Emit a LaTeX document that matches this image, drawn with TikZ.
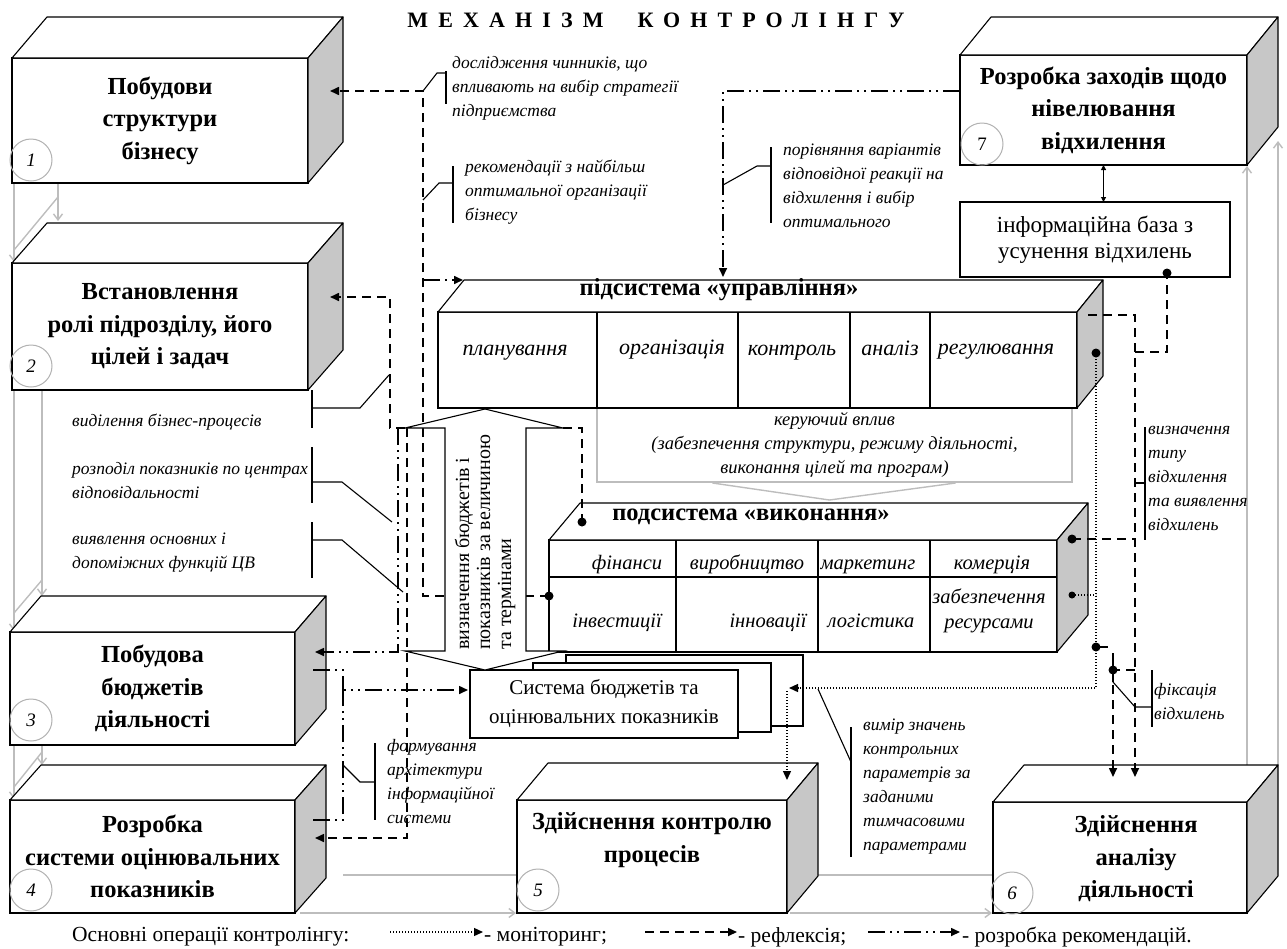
\documentclass[tikz,border=0pt]{standalone}
\usepackage{fontspec}
\setmainfont{Liberation Serif}
\usetikzlibrary{arrows.meta,calc}

\definecolor{sidegray}{gray}{0.78}
\definecolor{flowgray}{gray}{0.74}
\definecolor{ringgray}{gray}{0.70}

\newcommand\boxfont{\fontsize{24.5}{32.5}\selectfont\bfseries}
\newcommand\headfont{\fontsize{24.5}{26}\selectfont\bfseries}
\newcommand\cellfont{\fontsize{22}{24}\selectfont\itshape}
\newcommand\lowcellfont{\fontsize{20.5}{25}\selectfont\itshape}
\newcommand\notefont{\fontsize{17.5}{24}\selectfont\itshape}
\newcommand\plainfont{\fontsize{21}{29}\selectfont}
\newcommand\legendfont{\fontsize{21.5}{22}\selectfont}

% top and right faces of a block whose front face is node #1
\newcommand\blockfaces[3]{%
  \draw[line width=1.1pt,fill=white,line join=round]
    (#1.north west) -- ++(#2,-#3) -- ($(#1.north east)+(#2,-#3)$) -- (#1.north east) -- cycle;
  \draw[line width=1.1pt,fill=sidegray,line join=round]
    (#1.north east) -- ++(#2,-#3) -- ($(#1.south east)+(#2,-#3)$) -- (#1.south east) -- cycle;}

\begin{document}
\begin{tikzpicture}[x=1pt,y=-1pt,
  front/.style={draw,line width=1.1pt,fill=white,inner sep=0pt,outer sep=0pt,align=center,font=\boxfont},
  plainbox/.style={draw,line width=1.1pt,fill=white,inner sep=0pt,outer sep=0pt,align=center,font=\plainfont},
  celltext/.style={font=\cellfont,inner sep=0pt,align=center,anchor=base},
  lowcell/.style={font=\lowcellfont,inner sep=0pt,align=center,anchor=base},
  notetext/.style={font=\notefont,inner sep=0pt,align=left,anchor=west},
  numring/.style={draw=ringgray,line width=1pt,circle,minimum size=42pt,inner sep=0pt,font=\fontsize{19}{19}\selectfont\itshape},
  blackdot/.style={circle,fill=black,minimum size=9pt,inner sep=0pt},
  refline/.style={line width=1.6pt,dash pattern=on 9pt off 6pt},
  recline/.style={line width=1.6pt,dash pattern=on 17pt off 5pt on 2pt off 5pt on 2pt off 5pt},
  monline/.style={line width=1.3pt,dash pattern=on 1.3pt off 1.7pt},
  endtri/.style={-{Triangle[length=9pt,width=8pt]}},
  leader/.style={line width=1.1pt},
  grayflow/.style={draw=flowgray,line width=1.4pt,-{Straight Barb[length=6pt,width=9pt]}},
  grayline/.style={draw=flowgray,line width=1.4pt},
]
\useasboundingbox (0,0) rectangle (1287,948);

% ---------- grey flow between the stages ----------
\draw[grayflow] (14,183) -- (14,262);
\draw[grayflow] (58,183) -- (58,221);
\draw[grayline] (14,250) -- (58,197);
\draw[grayflow] (14,390) -- (14,631);
\draw[grayflow] (42,390) -- (42,596);
\draw[grayline] (14,613) -- (42,580);
\draw[grayflow] (14,745) -- (14,799);
\draw[grayflow] (42,745) -- (42,765);
\draw[grayline] (14,787) -- (42,752);
\draw[grayline] (343,875) -- (517,875);
\draw[grayflow] (300,913) -- (516,913);
\draw[grayline] (818,875) -- (993,875);
\draw[grayflow] (790,913) -- (992,913);
\draw[grayflow] (1247,802) -- (1247,166);
\draw[grayflow] (1278,765) -- (1278,141);

% ---------- stage blocks ----------
\node[front,minimum width=296pt,minimum height=125pt] (b1) at (160,120.5) {Побудови\\структури\\бізнесу};
\blockfaces{b1}{35}{41}
\node[front,minimum width=296pt,minimum height=127pt] (b2) at (160,326.5) {Встановлення\\ролі підрозділу, його\\цілей і задач};
\blockfaces{b2}{35}{40}
\node[front,minimum width=285pt,minimum height=113pt] (b3) at (152.5,688.5) {Побудова\\бюджетів\\діяльності};
\blockfaces{b3}{31}{36}
\node[front,minimum width=285pt,minimum height=113pt] (b4) at (152.5,856.5) {Розробка\\системи оцінювальних\\показників};
\blockfaces{b4}{31}{35}
\node[front,minimum width=270pt,minimum height=113pt] (b5) at (652,856.5) {};
\blockfaces{b5}{31}{37}
\node[font=\boxfont,align=center,inner sep=0pt] (b5t) at (652,840) {Здійснення контролю\\процесів};
\node[front,minimum width=254pt,minimum height=111pt] (b6) at (1120,857.5) {};
\blockfaces{b6}{31}{37}
\node[font=\boxfont,align=center,inner sep=0pt] (b6t) at (1136,859) {Здійснення\\аналізу\\діяльності};
\node[front,minimum width=287pt,minimum height=110pt] (b7) at (1103.5,110) {Розробка заходів щодо\\нівелювання\\відхилення};
\blockfaces{b7}{31}{38}
\node[plainbox,minimum width=270pt,minimum height=75pt,font=\fontsize{23}{26}\selectfont] (info) at (1095,239.5) {інформаційна база з\\усунення відхилень};
\draw[line width=1.1pt,{Triangle[length=5pt,width=5pt]}-{Triangle[length=5pt,width=5pt]}] (b7.south) -- (b7.south |- info.north);

% ---------- control influence panel ----------
\node[draw=flowgray,line width=1.2pt,minimum width=475pt,minimum height=74pt,inner sep=0pt,outer sep=0pt,align=center,font=\fontsize{18.5}{24}\selectfont\itshape] (ctrl) at (834.5,445)
  {керуючий вплив\\(забезпечення структури, режиму діяльності,\\виконання цілей та програм)};
\draw[grayline] ($(ctrl.south)+(-122,1)$) -- ($(ctrl.south)+(-5,18)$) -- ($(ctrl.south)+(121,1)$);

% ---------- management subsystem ----------
\node[draw,line width=1.1pt,fill=white,minimum width=639pt,minimum height=96pt,inner sep=0pt,outer sep=0pt] (mgmt) at (757.5,360) {};
\blockfaces{mgmt}{26}{32}
\foreach \x in {597,738,850,930} \draw[line width=1.1pt] (\x,312) -- (\x,408);
\node[font=\headfont,inner sep=0pt,anchor=base] (mgmtT) at (719,295) {підсистема «управління»};
\node[celltext] (c11) at (515,355) {планування};
\node[celltext] (c12) at (672,354) {організація};
\node[celltext] (c13) at (792,355) {контроль};
\node[celltext] (c14) at (890,355) {аналіз};
\node[celltext] (c15) at (996,354) {регулювання};

% ---------- execution subsystem ----------
\node[draw,line width=1.1pt,fill=white,minimum width=508pt,minimum height=112pt,inner sep=0pt,outer sep=0pt] (exec) at (803,596) {};
\blockfaces{exec}{31}{37}
\draw[line width=1.1pt] (549,577) -- (1057,577);
\foreach \x in {676,818,930} \draw[line width=1.1pt] (\x,540) -- (\x,652);
\node[font=\headfont,inner sep=0pt,anchor=base] (execT) at (751,520) {подсистема «виконання»};
\node[lowcell] (c21) at (627,569) {фінанси};
\node[lowcell] (c22) at (747,569) {виробництво};
\node[lowcell] (c23) at (868,569) {маркетинг};
\node[lowcell] (c24) at (992,569) {комерція};
\node[lowcell] (c31) at (617,627) {інвестиції};
\node[lowcell] (c32) at (768,627) {інновації};
\node[lowcell] (c33) at (871,627) {логістика};
\node[font=\lowcellfont,inner sep=0pt,align=center] (c34) at (989,611) {забезпечення\\ресурсами};

% ---------- budgets system ----------
\node[plainbox,minimum width=237pt,minimum height=71pt] (sb3) at (684.5,690.5) {};
\node[plainbox,minimum width=238pt,minimum height=69pt] (sb2) at (652,697.5) {};
\node[plainbox,minimum width=268pt,minimum height=68pt] (sb1) at (604,704) {Система бюджетів та\\оцінювальних показників};

% ---------- junction dots ----------
\node[blackdot] (dA) at (549,596) {};
\node[blackdot] (dB) at (582,522) {};
\node[blackdot] (dC) at (1096,353) {};
\node[blackdot] (dD) at (1072,539) {};
\node[blackdot,minimum size=7pt] (dE) at (1072,595) {};
\node[blackdot] (dF) at (1096,647) {};
\node[blackdot] (dG) at (1113,670) {};
\node[blackdot] (dH) at (1167,273) {};

% ---------- connector end points ----------
\coordinate (b1in) at (330,91);
\coordinate (b2in) at (330,297);
\coordinate (b3in) at (315,652);
\coordinate (b4in) at (315,838);
\coordinate (b3out) at (313,670);
\coordinate (b4out) at (313,820);
\coordinate (b5in) at (787,780);
\coordinate (b6inA) at (1113,777);
\coordinate (b6inB) at (1135,777);
\coordinate (b7out) at (960,91);
\coordinate (mgmtIn) at (723,277);
\coordinate (mgmtInL) at (463,280);
\coordinate (mgmtSide) at (1088,315);
\coordinate (sbIn) at (468,690);
\coordinate (sbInR) at (789,688);
\coordinate (sbDown) at (787,691);
\coordinate (shL) at (405,428);
\coordinate (shR) at (563,428);

% ---------- reflection (dashed) ----------
\draw[refline,endtri] (dA.center) -- (423,596) -- (423,91) -- (b1in);
\draw[refline,endtri] (shL) -- (390,428) -- (390,297) -- (b2in);
\draw[refline] (shR) -- (582,428) -- (dB.center);
\draw[refline,endtri] (407,428) -- (407,838) -- (b4in);
\draw[refline,endtri] (mgmtSide) -- (1135,315) -- (b6inB);
\draw[refline] (1135,352) -- (1167,352) -- (dH.center);
\draw[refline] (dD.center) -- (1135,539);
\draw[refline] (1135,670) -- (dG.center);
\draw[refline,endtri] (dG.center) -- (b6inA);
\draw[line width=1.6pt] (1113,653) -- (1113,682);

% ---------- recommendations (dash-dot-dot) ----------
\draw[recline,endtri] (b7out) -- (723,91) -- (mgmtIn);
\draw[recline,endtri] (423,280) -- (mgmtInL);
\draw[recline,endtri] (398,428) -- (398,652) -- (b3in);
\draw[recline,endtri] (b3out) -- (343,670) -- (343,690) -- (sbIn);
\draw[recline] (b4out) -- (343,820) -- (343,690);

% ---------- monitoring (dotted) ----------
\draw[monline,endtri] (dC.center) -- (1096,688) -- (sbInR);
\draw[monline,endtri] (sbDown) -- (b5in);
\draw[monline] (dE.center) -- (1096,595);
\draw[line width=1.2pt] (dF.center) -- (1108,647);

% ---------- callouts ----------
\draw[leader] (423,91) -- (437,73) -- (446,73);  \draw[leader] (446,71) -- (446,104);
\draw[leader] (423,200) -- (439,183) -- (453,183); \draw[leader] (453,166) -- (453,223);
\draw[leader] (723,185) -- (757,166) -- (771,166); \draw[leader] (771,147) -- (771,223);
\draw[leader] (389,375) -- (360,408) -- (312,408); \draw[leader] (312,390) -- (312,428);
\draw[leader] (392,522) -- (342,482) -- (312,482); \draw[leader] (312,447) -- (312,503);
\draw[leader] (403,592) -- (342,540) -- (312,540); \draw[leader] (312,522) -- (312,578);
\draw[leader] (343,765) -- (360,782) -- (375,782); \draw[leader] (375,743) -- (375,820);
\draw[leader] (818,689) -- (851,762); \draw[leader] (851,727) -- (851,857);
\draw[leader] (1135,483) -- (1145,483); \draw[leader] (1145,427) -- (1145,540);
\draw[leader] (1113,682) -- (1135,707) -- (1152,707); \draw[leader] (1152,670) -- (1152,727);

\node[notetext] (t1) at (452,88) {дослідження чинників, що\\впливають на вибір стратегії\\підприємства};
\node[notetext] (t2) at (465,192) {рекомендації з найбільш\\оптимальної організації\\бізнесу};
\node[notetext] (t3) at (783,186) {порівняння варіантів\\відповідної реакції на\\відхилення і вибір\\оптимального};
\node[notetext] (t4) at (72,422) {виділення бізнес-процесів};
\node[notetext] (t5) at (72,481) {розподіл показників по центрах\\відповідальності};
\node[notetext] (t6) at (72,553) {виявлення основних і\\допоміжних функцій ЦВ};
\node[notetext] (t7) at (387,782) {формування\\архітектури\\інформаційної\\системи};
\node[notetext] (t8) at (863,787) {вимір значень\\контрольних\\параметрів за\\заданими\\тимчасовими\\параметрами};
\node[notetext] (t9) at (1148,478) {визначення\\типу\\відхилення\\та виявлення\\відхилень};
\node[notetext] (t10) at (1154,702) {фіксація\\відхилень};

% ---------- two-way arrow between the subsystems ----------
\draw[line width=1.1pt,fill=white,line join=miter] (485,409) -- (563,428) -- (526,428) -- (526,651) -- (563,651)
  -- (485,670) -- (405,651) -- (445,651) -- (445,428) -- (405,428) -- cycle;
\node[rotate=90,anchor=west,align=left,inner sep=0pt,font=\fontsize{20}{21}\selectfont] (arrT) at (485,650)
  {визначення бюджетів і\\показників за величиною\\та термінами};

% ---------- stage numbers ----------
\node[numring] (n1) at (31,160) {1};
\node[numring] (n2) at (31,366) {2};
\node[numring] (n3) at (31,720) {3};
\node[numring] (n4) at (31,890) {4};
\node[numring] (n5) at (538,890) {5};
\node[numring] (n6) at (1012,893) {6};
\node[numring,font=\fontsize{19}{19}\selectfont] (n7) at (982,144) {7};

% ---------- heading ----------
\node[font=\fontsize{22}{22}\selectfont\bfseries\addfontfeature{LetterSpace=46},inner sep=0pt] (mainT) at (656,20) {МЕХАНІЗМ\hspace{34pt}КОНТРОЛІНГУ};

% ---------- legend ----------
\node[font=\legendfont,inner sep=0pt,anchor=west] (legT) at (72,937) {Основні операції контролінгу:};
\coordinate (lg1a) at (390,932); \coordinate (lg1b) at (483,932);
\coordinate (lg2a) at (645,932); \coordinate (lg2b) at (737,932);
\coordinate (lg3a) at (868,932); \coordinate (lg3b) at (960,932);
\draw[monline,endtri] (lg1a) -- (lg1b);
\draw[refline,endtri] (lg2a) -- (lg2b);
\draw[recline,endtri] (lg3a) -- (lg3b);
\node[font=\legendfont,inner sep=0pt,anchor=west] (lg1t) at (484,937) {- моніторинг;};
\node[font=\legendfont,inner sep=0pt,anchor=west] (lg2t) at (738,937) {- рефлексія;};
\node[font=\legendfont,inner sep=0pt,anchor=west] (lg3t) at (962,937) {- розробка рекомендацій.};
\end{tikzpicture}
\end{document}
